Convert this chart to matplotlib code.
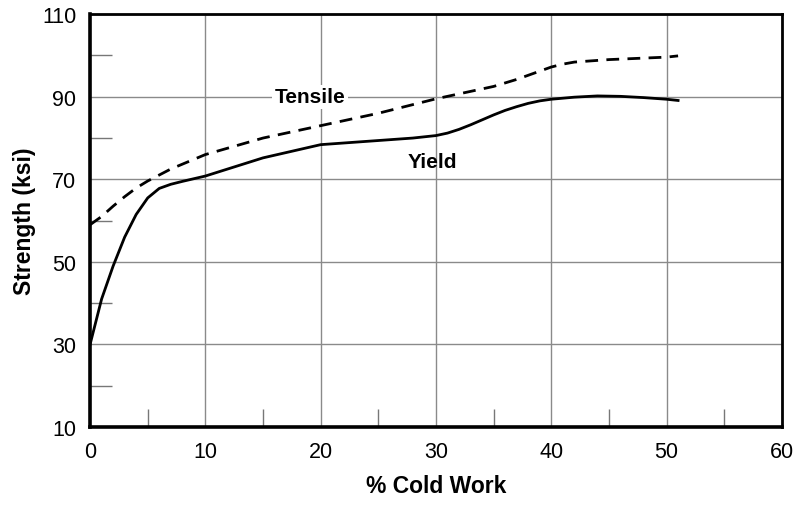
# Strength vs % cold work: tensile (dashed) and yield (solid) curves
import matplotlib.pyplot as plt
from matplotlib.ticker import MultipleLocator

plt.rcParams['font.family'] = ['Liberation Sans', 'DejaVu Sans']

# --- data ---
tensile_x = [0, 1, 2, 3, 4, 5, 7, 10, 15, 20, 25, 30, 35, 37, 39, 40, 41, 42, 45, 50, 51]
tensile_y = [59, 61, 63.5, 65.8, 67.9, 69.6, 72.5, 76, 80, 83, 86, 89.5, 92.5, 94.2, 96.2, 97.2, 97.9, 98.4, 99, 99.6, 99.9]

yield_x = [0, 0.5, 1, 2, 3, 4, 5, 6, 7, 8, 10, 15, 20, 25, 28, 30, 31, 32, 33, 34, 35, 36, 37, 38, 39, 40,
           42, 44, 46, 48, 50, 51]
yield_y = [30, 35.5, 41, 49, 56, 61.5, 65.5, 67.8, 68.8, 69.5, 70.8, 75.2, 78.4, 79.4, 80, 80.6, 81.2, 82.1,
           83.2, 84.4, 85.6, 86.7, 87.6, 88.4, 89.0, 89.4, 89.9, 90.2, 90.1, 89.8, 89.4, 89.1]

x_ticks = [0, 10, 20, 30, 40, 50, 60]
y_ticks = [10, 30, 50, 70, 90, 110]

fig = plt.figure(figsize=(7.97, 5.06), dpi=100)
ax = fig.add_axes([0.113, 0.154, 0.868, 0.816])

ax.plot(tensile_x, tensile_y, color='black', lw=2.0, dashes=(4.6, 3.0))
ax.plot(yield_x, yield_y, color='black', lw=2.0)

ax.set_xlim(0, 60)
ax.set_ylim(10, 110)
ax.set_xticks(x_ticks)
ax.set_yticks(y_ticks)
ax.xaxis.set_minor_locator(MultipleLocator(5))
ax.yaxis.set_minor_locator(MultipleLocator(10))

ax.grid(True, which='major', color='#8a8a8a', lw=1.0)
ax.set_axisbelow(True)

ax.tick_params(which='major', length=0, labelsize=15.5, pad=10)
ax.tick_params(which='minor', direction='in', length=13, width=1.0, color='#777777')
ax.tick_params(axis='y', which='minor', length=16)

for side in ('left', 'bottom'):
    ax.spines[side].set_linewidth(2.6)
for side in ('top', 'right'):
    ax.spines[side].set_linewidth(2.0)

ax.set_xlabel('% Cold Work', fontsize=16.5, fontweight='bold', labelpad=9)
ax.set_ylabel('Strength (ksi)', fontsize=16.5, fontweight='bold', labelpad=4)

ax.text(19.1, 90, 'Tensile', fontsize=15, fontweight='bold', ha='center', va='center',
        bbox=dict(facecolor='white', edgecolor='none', pad=2))
ax.text(29.7, 74.3, 'Yield', fontsize=15, fontweight='bold', ha='center', va='center')

fig.savefig('out.png', dpi=100)
